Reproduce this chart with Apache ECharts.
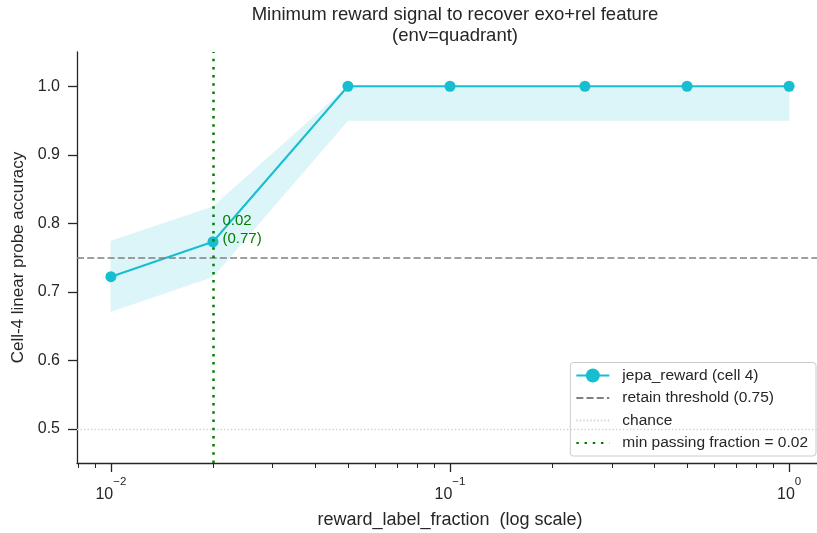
<!DOCTYPE html>
<html>
<head>
<meta charset="utf-8">
<title>Minimum reward signal</title>
<script src="https://cdn.jsdelivr.net/npm/echarts@6/dist/echarts.min.js"></script>
<style>
  html, body { margin: 0; padding: 0; background: #ffffff; }
  #chart { width: 817px; height: 533px; }
</style>
</head>
<body>
<div id="chart"></div>
<script>
// reward label fractions tested and the probe accuracy measured at each
const fractions = [0.01, 0.02, 0.05, 0.1, 0.25, 0.5, 1.0];
const accuracy  = [0.722, 0.773, 1.0, 1.0, 1.0, 1.0, 1.0];
// spread across seeds (lower / upper edge of the shaded band)
const bandLow   = [0.671, 0.722, 0.95, 0.95, 0.95, 0.95, 0.95];
const bandHigh  = [0.774, 0.824, 1.0, 1.0, 1.0, 1.0, 1.0];

const retainThreshold = 0.75;
const chanceLevel = 0.5;
const minPassing = 0.02;

// axis ticks
const xMajorTicks = [0.01, 0.1, 1];
const xMinorTicks = [0.008, 0.009, 0.02, 0.03, 0.04, 0.05, 0.06, 0.07, 0.08, 0.09,
                     0.2, 0.3, 0.4, 0.5, 0.6, 0.7, 0.8, 0.9];
const yTicks = [0.5, 0.6, 0.7, 0.8, 0.9, 1.0];

const X_MIN = Math.pow(10, -2.1);
const X_MAX = Math.pow(10, 0.1);
const Y_MIN = 0.45;
const Y_MAX = 1.05;

const CYAN = '#17becf';
const BAND = '#dcf5f8';
const INK = '#262626';
const FONT = '"Liberation Sans", Arial, sans-serif';

const mainData = fractions.map((f, i) => [f, accuracy[i]]);
const passIdx = fractions.indexOf(minPassing);
const mainItems = mainData.map((d, i) => {
  if (i !== passIdx) return d;
  return {
    value: d,
    label: {
      show: true,
      position: 'right',
      distance: 4,
      offset: [0, -12],
      color: '#008000',
      fontFamily: FONT,
      fontSize: 15,
      lineHeight: 18,
      formatter: () => d[0] + '\n(' + d[1].toFixed(2) + ')'
    }
  };
});

// one band segment per pair of neighbouring fractions
const bandSegments = [];
for (let i = 0; i < fractions.length - 1; i++) {
  bandSegments.push([fractions[i], bandLow[i], bandHigh[i],
                     fractions[i + 1], bandLow[i + 1], bandHigh[i + 1]]);
}

function renderBand(params, api) {
  const a = api.coord([api.value(0), api.value(1)]);
  const b = api.coord([api.value(0), api.value(2)]);
  const c = api.coord([api.value(3), api.value(5)]);
  const d = api.coord([api.value(3), api.value(4)]);
  return {
    type: 'polygon',
    shape: { points: [a, b, c, d] },
    style: { fill: BAND, stroke: BAND, lineWidth: 0.6 },
    silent: true
  };
}

const chart = echarts.init(document.getElementById('chart'), null, { renderer: 'canvas' });

const plainIcon = { itemStyle: { opacity: 0 } };

chart.setOption({
  animation: false,
  backgroundColor: '#ffffff',
  title: {
    text: 'Minimum reward signal to recover exo+rel feature\n(env=quadrant)',
    left: 450,
    top: -1,
    textAlign: 'center',
    textStyle: { fontFamily: FONT, fontSize: 18.5, fontWeight: 'normal', color: INK, lineHeight: 21 }
  },
  grid: { left: 77, right: -6, top: 52, bottom: 70, containLabel: false, outerBoundsMode: 'none' },
  legend: {
    orient: 'vertical',
    right: 1,
    bottom: 77,
    padding: [5, 8, 5, 5],
    itemGap: 6.5,
    itemWidth: 33,
    itemHeight: 17.5,
    backgroundColor: 'rgba(255,255,255,0.85)',
    borderColor: '#cccccc',
    borderWidth: 1,
    borderRadius: 3,
    textStyle: { fontFamily: FONT, fontSize: 15.5, color: INK, padding: [0, 0, 0, 8] },
    data: [
      { name: 'jepa_reward (cell 4)' },
      Object.assign({ name: 'retain threshold (0.75)' }, plainIcon),
      Object.assign({ name: 'chance' }, plainIcon),
      Object.assign({ name: 'min passing fraction = 0.02' }, plainIcon)
    ]
  },
  xAxis: [
    {
      type: 'log',
      logBase: 10,
      min: X_MIN,
      max: X_MAX,
      name: 'reward_label_fraction  (log scale)',
      nameLocation: 'middle',
      nameGap: 48,
      nameTextStyle: { fontFamily: FONT, fontSize: 18, color: INK },
      axisLine: { show: true, lineStyle: { color: INK, width: 1.3 } },
      axisTick: { show: true, length: 9, lineStyle: { color: INK, width: 1.3 }, customValues: xMajorTicks },
      axisLabel: {
        customValues: xMajorTicks,
        margin: 13,
        color: INK,
        formatter: v => {
          const e = Math.round(Math.log10(v));
          return '{b|10}{s|' + (e < 0 ? '\u2212' : '') + Math.abs(e) + '}';
        },
        rich: {
          b: { fontFamily: FONT, fontSize: 16, color: INK, verticalAlign: 'bottom', lineHeight: 27 },
          s: { fontFamily: FONT, fontSize: 11.5, color: INK, verticalAlign: 'top', lineHeight: 27 }
        }
      },
      splitLine: { show: false }
    },
    {
      type: 'log',
      logBase: 10,
      min: X_MIN,
      max: X_MAX,
      position: 'bottom',
      axisLine: { show: false },
      axisTick: { show: true, length: 5, lineStyle: { color: INK, width: 1 }, customValues: xMinorTicks },
      axisLabel: { show: false },
      splitLine: { show: false }
    }
  ],
  yAxis: {
    type: 'value',
    min: Y_MIN,
    max: Y_MAX,
    name: 'Cell-4 linear probe accuracy',
    nameLocation: 'middle',
    nameGap: 50,
    nameTextStyle: { fontFamily: FONT, fontSize: 17, color: INK },
    axisLine: { show: true, lineStyle: { color: INK, width: 1.3 } },
    axisTick: { show: true, length: 9, lineStyle: { color: INK, width: 1.3 }, customValues: yTicks },
    axisLabel: {
      customValues: yTicks,
      margin: 17,
      fontFamily: FONT,
      fontSize: 16,
      color: INK,
      formatter: v => v.toFixed(1)
    },
    splitLine: { show: false }
  },
  series: [
    {
      name: 'band',
      type: 'custom',
      renderItem: renderBand,
      data: bandSegments,
      encode: { x: [0, 3], y: [1, 2, 4, 5] },
      silent: true,
      z: 1
    },
    {
      name: 'chance',
      type: 'line',
      data: [],
      symbol: 'none',
      color: '#d0d0d0',
      lineStyle: { color: '#d0d0d0', width: 1.3, type: [1.3, 2.2] },
      markLine: {
        silent: true,
        symbol: 'none',
        label: { show: false },
        lineStyle: { color: '#d0d0d0', width: 1.3, type: [1.3, 2.2] },
        data: [{ yAxis: chanceLevel }]
      },
      z: 2
    },
    {
      name: 'retain threshold (0.75)',
      type: 'line',
      data: [],
      symbol: 'none',
      color: '#808080',
      lineStyle: { color: '#808080', width: 1.6, type: [7, 3.2] },
      markLine: {
        silent: true,
        symbol: 'none',
        label: { show: false },
        lineStyle: { color: '#808080', width: 1.6, type: [7, 3.2] },
        data: [{ yAxis: retainThreshold }]
      },
      z: 3
    },
    {
      name: 'jepa_reward (cell 4)',
      type: 'line',
      data: mainItems,
      color: CYAN,
      symbol: 'circle',
      symbolSize: 11,
      showAllSymbol: true,
      lineStyle: { color: CYAN, width: 2 },
      itemStyle: { color: CYAN },
      z: 4
    },
    {
      name: 'min passing fraction = 0.02',
      type: 'line',
      data: [],
      symbol: 'none',
      color: '#008000',
      lineStyle: { color: '#008000', width: 2.5, type: [2.5, 5.7] },
      markLine: {
        silent: true,
        symbol: 'none',
        label: { show: false },
        lineStyle: { color: '#008000', width: 2.5, type: [2.5, 5.7] },
        data: [{ xAxis: minPassing }]
      },
      z: 5
    }
  ]
});
</script>
</body>
</html>
